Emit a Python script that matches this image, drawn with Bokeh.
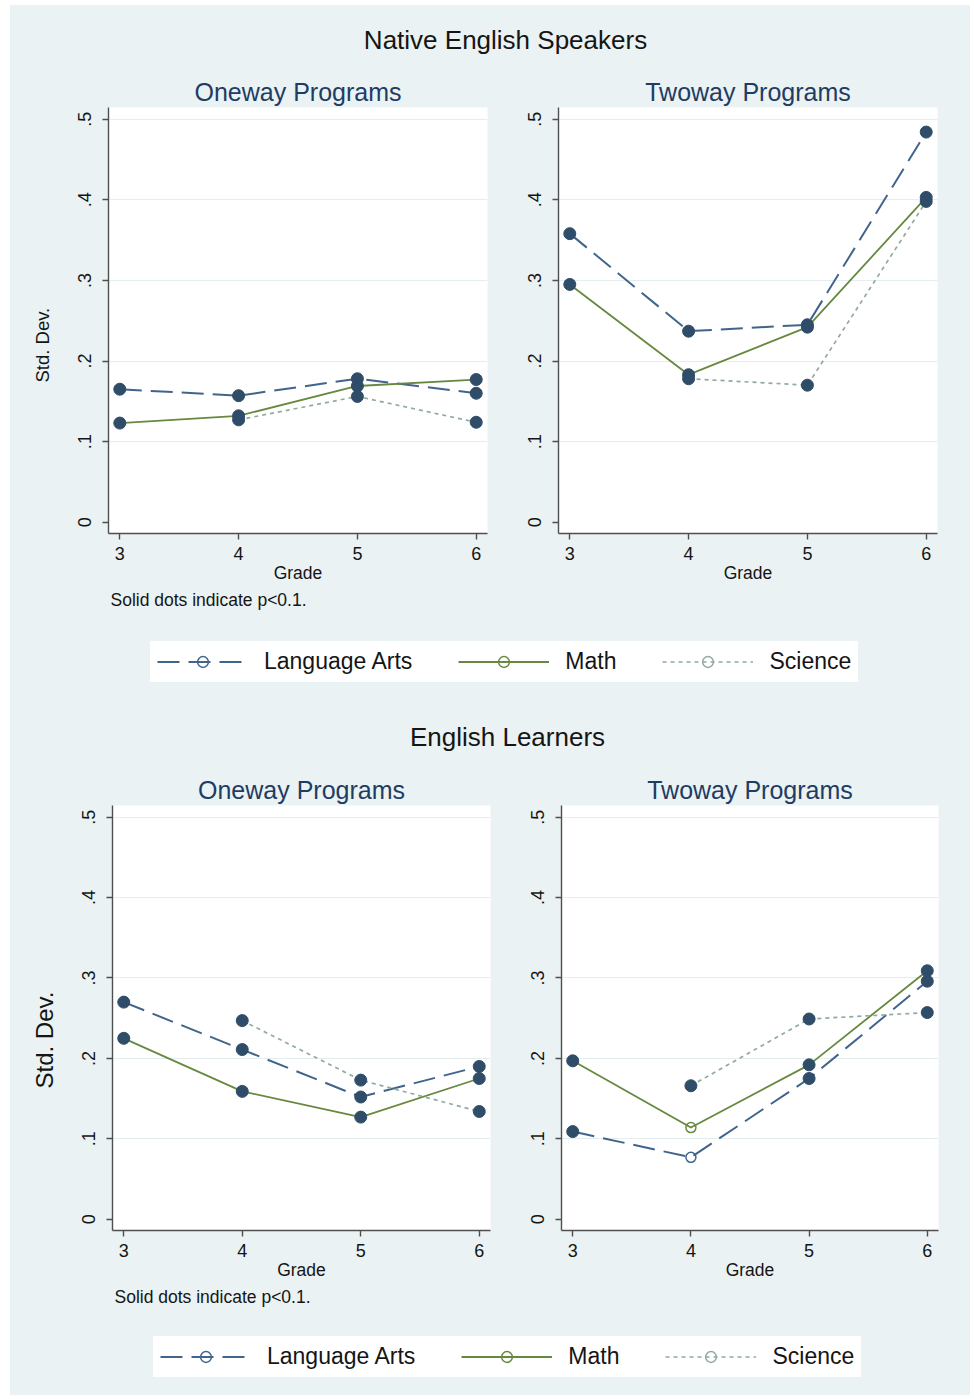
import numpy as np
from bokeh.plotting import figure
from bokeh.models import (Range1d, FixedTicker, ColumnDataSource, Legend,
                          LegendItem, Label, Title)
from bokeh.layouts import column, row
from bokeh.embed import file_html
from bokeh.resources import INLINE

# ---------------- data ----------------
grades = [3, 4, 5, 6]
x_tick_labels = ["3", "4", "5", "6"]
y_ticks = [0, 0.1, 0.2, 0.3, 0.4, 0.5]
y_tick_labels = ["0", ".1", ".2", ".3", ".4", ".5"]
subjects = ["Language Arts", "Math", "Science"]
nan = float("nan")

# Native English Speakers
nes_one_la = [0.165, 0.157, 0.178, 0.160]
nes_one_math = [0.123, 0.132, 0.169, 0.177]
nes_one_sci = [nan, 0.127, 0.156, 0.124]
nes_two_la = [0.358, 0.237, 0.245, 0.484]
nes_two_math = [0.295, 0.183, 0.242, 0.403]
nes_two_sci = [nan, 0.178, 0.170, 0.398]

# English Learners
el_one_la = [0.270, 0.211, 0.152, 0.190]
el_one_math = [0.225, 0.159, 0.127, 0.175]
el_one_sci = [nan, 0.247, 0.173, 0.134]
el_two_la = [0.109, 0.077, 0.175, 0.296]
el_two_math = [0.197, 0.114, 0.192, 0.309]
el_two_sci = [nan, 0.166, 0.249, 0.257]

# significance (1 = p<0.1 -> solid dot)
sig_all = [1, 1, 1, 1]
el_two_la_sig = [1, 0, 1, 1]
el_two_math_sig = [1, 0, 1, 1]

# ---------------- style ----------------
FONT = "Liberation Sans"
BG = "#EAF2F3"
GRID = "#E4EDEF"
AXIS = "#4f4f4f"
DOT = "#2f4d69"
TXT = "#151515"
SUB_COLOR = "#1e3c64"
COLORS = {"Language Arts": "#40658c", "Math": "#67893f", "Science": "#91aa9f"}
DASH = {"Language Arts": "22 9", "Math": "solid", "Science": "4 4"}
LW = {"Language Arts": 2.0, "Math": 1.8, "Science": 1.7}
X_MIN, X_MAX = 2.905, 6.095
Y_MIN, Y_MAX = -0.014, 0.5145


def make_panel(subtitle, series, width, height, border, ylab=None, note=False):
    left, right, top, bottom = border
    p = figure(width=width, height=height, title=subtitle,
               x_range=Range1d(X_MIN, X_MAX), y_range=Range1d(Y_MIN, Y_MAX),
               output_backend="svg", toolbar_location=None,
               min_border_left=left, min_border_right=right,
               min_border_top=top, min_border_bottom=bottom,
               background_fill_color="white", border_fill_color=BG,
               outline_line_color=None)
    p.title.align = "center"
    p.title.text_font = FONT
    p.title.text_font_size = "25px"
    p.title.text_font_style = "normal"
    p.title.text_color = SUB_COLOR
    p.title.standoff = 4

    p.xaxis.ticker = FixedTicker(ticks=grades)
    p.xaxis.major_label_overrides = {g: t for g, t in zip(grades, x_tick_labels)}
    p.yaxis.ticker = FixedTicker(ticks=y_ticks)
    p.yaxis.major_label_overrides = {v: t for v, t in zip(y_ticks, y_tick_labels)}
    p.yaxis.major_label_orientation = "vertical"
    for ax in (p.xaxis[0], p.yaxis[0]):
        ax.axis_line_color = AXIS
        ax.axis_line_width = 1.4
        ax.major_tick_line_color = AXIS
        ax.major_tick_line_width = 1.4
        ax.major_tick_out = 6
        ax.major_tick_in = 0
        ax.minor_tick_line_color = None
        ax.major_label_text_font = FONT
        ax.major_label_text_font_size = "18px"
        ax.major_label_text_color = TXT
    p.xaxis.major_label_standoff = 7
    p.yaxis.major_label_standoff = 11
    p.xaxis.axis_label = "Grade"
    p.xaxis.axis_label_text_font = FONT
    p.xaxis.axis_label_text_font_size = "17.5px"
    p.xaxis.axis_label_text_font_style = "normal"
    p.xaxis.axis_label_text_color = TXT
    p.xaxis.axis_label_standoff = 0

    p.xgrid.visible = False
    p.ygrid.ticker = FixedTicker(ticks=y_ticks[1:])
    p.ygrid.grid_line_color = GRID
    p.ygrid.grid_line_width = 1.2

    for subj, vals, sig in series:
        src = ColumnDataSource(dict(x=np.array(grades, dtype=float),
                                    y=np.array(vals, dtype=float)))
        p.line("x", "y", source=src, line_color=COLORS[subj],
               line_width=LW[subj], line_dash=DASH[subj])
    for subj, vals, sig in series:
        xs = [g for g, v, s in zip(grades, vals, sig) if s and v == v]
        ys = [v for g, v, s in zip(grades, vals, sig) if s and v == v]
        xh = [g for g, v, s in zip(grades, vals, sig) if not s and v == v]
        yh = [v for g, v, s in zip(grades, vals, sig) if not s and v == v]
        if xs:
            p.scatter(xs, ys, marker="circle", size=12, fill_color=DOT,
                      line_color=DOT, line_width=1)
        if xh:
            p.scatter(xh, yh, marker="circle", size=10, fill_color=None,
                      line_color=COLORS[subj], line_width=1.5)

    if ylab is not None:
        size, off, sto = ylab
        p.add_layout(Title(text="Std. Dev.", align="left", vertical_align="top",
                           offset=off, standoff=sto, text_font=FONT,
                           text_font_size=size, text_font_style="normal",
                           text_color=TXT), "left")
    if note:
        p.add_layout(Title(text="Solid dots indicate p<0.1.", align="left",
                           vertical_align="top", offset=2, standoff=8,
                           text_font=FONT, text_font_size="17.5px",
                           text_font_style="normal", text_color=TXT), "below")
    return p


def title_fig(text, height, cx, cy):
    f = figure(width=960, height=height, output_backend="svg",
               toolbar_location=None, x_range=Range1d(0, 1),
               y_range=Range1d(0, 1), x_axis_location=None,
               y_axis_location=None, min_border=0,
               border_fill_color=BG, background_fill_color=BG,
               outline_line_color=None)
    f.grid.visible = False
    f.add_layout(Label(x=cx, y=cy, x_units="screen", y_units="screen",
                       text=text, text_align="center", text_baseline="middle",
                       text_font=FONT, text_font_size="26px",
                       text_color=TXT))
    return f


def legend_fig(height, loc, proxy):
    # proxy renderers carry real series data but lie outside the (0,1) view,
    # so only their legend glyphs are shown
    f = figure(width=960, height=height, output_backend="svg",
               toolbar_location=None, x_range=Range1d(0, 1),
               y_range=Range1d(0, 1), x_axis_location=None,
               y_axis_location=None, min_border=0,
               border_fill_color=BG, background_fill_color=BG,
               outline_line_color=None)
    f.grid.visible = False
    items = []
    for subj, vals in zip(subjects, proxy):
        src = ColumnDataSource(dict(x=np.array(grades, dtype=float),
                                    y=np.array(vals, dtype=float)))
        r1 = f.line("x", "y", source=src, line_color=COLORS[subj],
                    line_width=LW[subj], line_dash=DASH[subj])
        r2 = f.scatter("x", "y", source=src, marker="circle",
                       fill_color=None, line_color=COLORS[subj], line_width=1.5)
        items.append(LegendItem(label=subj, renderers=[r1, r2]))
    leg = Legend(items=items, orientation="horizontal", location=loc,
                 glyph_width=91, glyph_height=27, label_standoff=16,
                 spacing=46, padding=0, margin=0,
                 background_fill_color="white", background_fill_alpha=1.0,
                 border_line_color="white", border_line_width=7,
                 border_line_join="miter", label_text_font=FONT,
                 label_text_font_size="23px", label_text_color=TXT)
    f.add_layout(leg, "center")
    return f


def series(la, ma, sc, la_sig=sig_all, ma_sig=sig_all, sc_sig=sig_all):
    return [("Language Arts", la, la_sig), ("Math", ma, ma_sig),
            ("Science", sc, sc_sig)]


BGS = {"background-color": BG}

t1 = title_fig("Native English Speakers", 60, 495, 26)
tl = make_panel("Oneway Programs", series(nes_one_la, nes_one_math, nes_one_sci),
                512, 555, (98, 35, 42, 87), ylab=("18.5px", 151, 42), note=True)
tr = make_panel("Twoway Programs", series(nes_two_la, nes_two_math, nes_two_sci),
                448, 555, (36, 33, 42, 62))
l1 = legend_fig(77, (140, 15), [nes_one_la, nes_one_math, nes_one_sci])

t2 = title_fig("English Learners", 65, 497, 26)
bl = make_panel("Oneway Programs", series(el_one_la, el_one_math, el_one_sci),
                512, 553, (102, 32, 43, 85), ylab=("24px", 142, 40), note=True)
br = make_panel("Twoway Programs",
                series(el_two_la, el_two_math, el_two_sci,
                       el_two_la_sig, el_two_math_sig),
                448, 553, (39, 32, 43, 60))
l2 = legend_fig(80, (143, 18), [el_one_la, el_one_math, el_one_sci])

layout = column(t1, row(tl, tr, styles=BGS), l1, t2, row(bl, br, styles=BGS), l2,
                margin=(5, 0, 0, 10), styles=BGS)

open("out.html", "w").write(file_html(layout, INLINE))
